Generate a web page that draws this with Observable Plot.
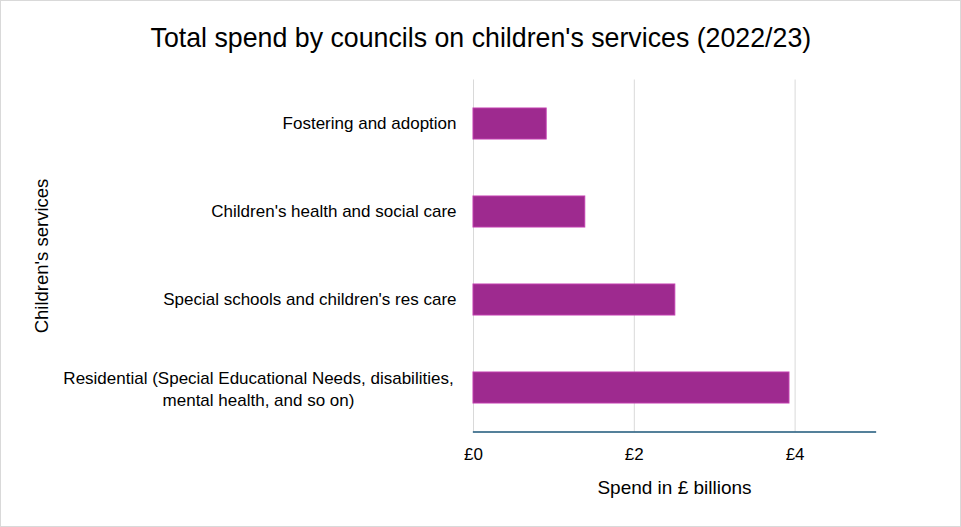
<!DOCTYPE html>
<html>
<head>
<meta charset="utf-8">
<script src="https://cdn.jsdelivr.net/npm/d3@7"></script>
<script src="https://cdn.jsdelivr.net/npm/@observablehq/plot@0.6"></script>
<style>
  body { margin: 0; background: #fff; }
  #chart {
    width: 961px; height: 527px; box-sizing: border-box;
    border: 1px solid #d9d9d9; position: relative; overflow: hidden; background: #fff;
  }
  #title {
    height: 69px; box-sizing: border-box; padding-top: 21px;
    text-align: center; font-family: "Liberation Sans", Arial, sans-serif;
    font-size: 28px; line-height: 32px; color: #000;
  }
  #title span { display: inline-block; transform: scaleX(0.955); transform-origin: center; white-space: nowrap; }
  #chart svg { display: block; }
</style>
</head>
<body>
<div id="chart">
  <div id="title"><span>Total spend by councils on children's services (2022/23)</span></div>
</div>
<script>
// Council spending on children's services, 2022/23 (£ billions)
const services = [
  "Fostering and adoption",
  "Children's health and social care",
  "Special schools and children's res care",
  "Residential (Special Educational Needs, disabilities, mental health, and so on)"
];
const spend = [0.91, 1.39, 2.51, 3.93];

// Wrapped form of the long category label
const wrappedLabels = {
  "Residential (Special Educational Needs, disabilities, mental health, and so on)":
    "Residential (Special Educational Needs, disabilities,\nmental health, and so on)"
};

const xTicks = [0, 2, 4];
const xTickLabels = ["£0", "£2", "£4"];
const xTitle = "Spend in £ billions";
const yTitle = "Children's services";

const rows = services.map((s, i) => ({service: s, spend: spend[i]}));
const longLabel = services[3];
const shortLabels = services.slice(0, 3);

const labelFont = "Liberation Sans, Arial, sans-serif";

const chart = Plot.plot({
  width: 959,
  height: 456,
  marginLeft: 472,
  marginRight: 85,
  marginTop: 9.5,
  marginBottom: 94.5,
  style: {fontFamily: labelFont, fontSize: "17px", color: "#000", background: "#fff"},
  x: {domain: [0, 5], ticks: xTicks},
  y: {domain: services, paddingInner: 0.65, paddingOuter: 0.325, align: 0.5},
  marks: [
    Plot.gridX(xTicks, {stroke: "#d9d9d9", strokeOpacity: 1, strokeWidth: 1}),
    Plot.barX(rows, {
      y: "service", x: "spend",
      fill: "#9e2a8f", stroke: "#c13dae", strokeWidth: 1
    }),
    Plot.frame({anchor: "bottom", stroke: "#1b5679", strokeWidth: 1.3}),
    Plot.axisX(xTicks, {
      tickSize: 0, tickPadding: 16, fontSize: 17,
      tickFormat: (d) => xTickLabels[xTicks.indexOf(d)], label: null
    }),
    Plot.axisY(shortLabels, {
      tickSize: 0, tickPadding: 17, textAnchor: "end", fontSize: 17, label: null
    }),
    Plot.axisY([longLabel], {
      tickSize: 0, tickPadding: 215, textAnchor: "middle", fontSize: 17,
      lineHeight: 1.3, tickFormat: (d) => wrappedLabels[d] ?? d, label: null
    }),
    Plot.text([xTitle], {
      frameAnchor: "bottom", lineAnchor: "top", dy: 48, fontSize: 19, text: (d) => d
    }),
    Plot.text([yTitle], {
      frameAnchor: "left", textAnchor: "middle", rotate: -90, dx: -431, fontSize: 18.5, text: (d) => d
    })
  ]
});

document.getElementById("chart").appendChild(chart);
</script>
</body>
</html>
